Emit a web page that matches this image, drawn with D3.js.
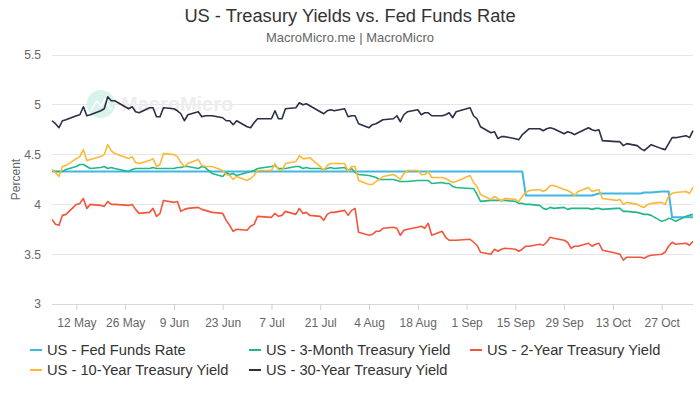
<!DOCTYPE html>
<html>
<head>
<meta charset="utf-8">
<script src="https://cdn.jsdelivr.net/npm/d3@7"></script>
<style>
  body { margin: 0; background: #fff; font-family: "Helvetica Neue", Helvetica, "Liberation Sans", Arial, sans-serif; }
</style>
</head>
<body>
<div id="chart"></div>
<script>
// business days, 2025 (MM-DD)
const dates = [
  '05-05','05-06','05-07','05-08','05-09','05-12','05-13','05-14','05-15','05-16','05-19','05-20','05-21','05-22','05-23','05-27','05-28','05-29','05-30',
  '06-02','06-03','06-04','06-05','06-06','06-09','06-10','06-11','06-12','06-13','06-16','06-17','06-18','06-20','06-23','06-24','06-25','06-26','06-27','06-30',
  '07-01','07-02','07-03','07-07','07-08','07-09','07-10','07-11','07-14','07-15','07-16','07-17','07-18','07-21','07-22','07-23','07-24','07-25','07-28','07-29','07-30','07-31',
  '08-01','08-04','08-05','08-06','08-07','08-08','08-11','08-12','08-13','08-14','08-15','08-18','08-19','08-20','08-21','08-22','08-25','08-26','08-27','08-28','08-29',
  '09-02','09-03','09-04','09-05','09-08','09-09','09-10','09-11','09-12','09-15','09-16','09-17','09-18','09-19','09-22','09-23','09-24','09-25','09-26','09-29','09-30',
  '10-01','10-02','10-03','10-06','10-07','10-08','10-09','10-10','10-14','10-15','10-16','10-17','10-20','10-21','10-22','10-23','10-24','10-27','10-28','10-29','10-30','10-31',
  '11-03','11-04','11-05'
];

const fedFunds = [
  4.33,4.33,4.33,4.33,4.33,4.33,4.33,4.33,4.33,4.33,4.33,4.33,4.33,4.33,4.33,4.33,4.33,4.33,4.33,
  4.33,4.33,4.33,4.33,4.33,4.33,4.33,4.33,4.33,4.33,4.33,4.33,4.33,4.33,4.33,4.33,4.33,4.33,4.33,4.33,
  4.33,4.33,4.33,4.33,4.33,4.33,4.33,4.33,4.33,4.33,4.33,4.33,4.33,4.33,4.33,4.33,4.33,4.33,4.33,4.33,4.33,4.33,
  4.33,4.33,4.33,4.33,4.33,4.33,4.33,4.33,4.33,4.33,4.33,4.33,4.33,4.33,4.33,4.33,4.33,4.33,4.33,4.33,4.33,
  4.33,4.33,4.33,4.33,4.33,4.33,4.33,4.33,4.33,4.33,4.33,4.33,4.09,4.09,4.09,4.09,4.09,4.09,4.09,4.09,4.09,
  4.09,4.09,4.09,4.09,4.09,4.10,4.11,4.11,4.11,4.11,4.11,4.11,4.11,4.11,4.12,4.12,4.12,4.13,4.13,4.13,3.87,3.87,
  3.87,3.87,3.87
];

const threeMonth = [
  4.34,4.33,4.33,4.33,4.35,4.38,4.40,4.40,4.38,4.36,4.37,4.38,4.36,4.37,4.36,4.33,4.35,4.36,4.36,
  4.36,4.37,4.36,4.36,4.36,4.36,4.37,4.37,4.38,4.38,4.36,4.38,4.37,4.31,4.28,4.32,4.30,4.31,4.29,4.32,
  4.33,4.34,4.36,4.38,4.39,4.36,4.36,4.36,4.38,4.38,4.36,4.37,4.36,4.36,4.35,4.36,4.37,4.36,4.37,4.34,4.36,4.32,
  4.30,4.29,4.28,4.27,4.25,4.25,4.25,4.24,4.23,4.23,4.23,4.24,4.24,4.24,4.24,4.21,4.22,4.21,4.21,4.18,4.17,
  4.16,4.16,4.10,4.03,4.04,4.04,4.04,4.04,4.04,4.03,4.01,4.01,4.00,4.00,3.99,3.96,3.95,3.97,3.96,3.97,3.95,
  3.96,3.96,3.96,3.96,3.95,3.96,3.96,3.95,3.96,3.96,3.93,3.93,3.92,3.91,3.90,3.90,3.89,3.83,3.84,3.86,3.85,3.83,
  3.88,3.89,3.90
];

const twoYear = [
  3.85,3.80,3.79,3.89,3.90,4.00,4.01,4.06,3.96,4.00,3.99,3.98,4.03,4.00,4.00,3.99,4.00,3.95,3.91,
  3.92,3.96,3.88,3.91,4.04,4.02,4.03,3.93,3.95,3.96,3.97,3.95,3.94,3.92,3.91,3.84,3.79,3.73,3.75,3.74,
  3.78,3.80,3.88,3.87,3.91,3.88,3.89,3.93,3.90,3.96,3.91,3.92,3.89,3.88,3.84,3.90,3.92,3.92,3.94,3.89,3.94,3.96,
  3.72,3.69,3.70,3.73,3.73,3.76,3.77,3.76,3.69,3.74,3.75,3.77,3.78,3.76,3.81,3.69,3.73,3.67,3.64,3.64,3.64,
  3.65,3.62,3.59,3.52,3.50,3.55,3.53,3.55,3.56,3.55,3.53,3.55,3.58,3.58,3.60,3.59,3.62,3.67,3.66,3.64,3.62,
  3.56,3.58,3.58,3.61,3.58,3.60,3.61,3.54,3.51,3.50,3.44,3.47,3.47,3.47,3.46,3.48,3.49,3.50,3.52,3.58,3.62,3.60,
  3.61,3.59,3.63
];

const tenYear = [
  4.35,4.32,4.28,4.38,4.39,4.46,4.48,4.55,4.44,4.45,4.48,4.50,4.60,4.54,4.51,4.46,4.48,4.42,4.41,
  4.44,4.46,4.38,4.40,4.51,4.50,4.48,4.42,4.38,4.41,4.45,4.39,4.38,4.38,4.34,4.30,4.29,4.25,4.28,4.24,
  4.26,4.29,4.34,4.34,4.41,4.35,4.34,4.41,4.43,4.49,4.46,4.46,4.47,4.38,4.34,4.39,4.41,4.41,4.41,4.33,4.38,4.38,
  4.24,4.20,4.20,4.23,4.25,4.28,4.30,4.28,4.25,4.31,4.34,4.34,4.30,4.30,4.33,4.27,4.27,4.26,4.24,4.22,4.23,
  4.29,4.22,4.18,4.10,4.05,4.08,4.06,4.03,4.06,4.05,4.03,4.08,4.12,4.14,4.15,4.13,4.15,4.19,4.19,4.15,4.14,
  4.12,4.09,4.13,4.17,4.13,4.14,4.15,4.06,4.04,4.05,4.00,4.02,4.00,3.98,3.97,4.00,4.01,4.02,4.00,4.08,4.11,4.12,
  4.13,4.11,4.17
];

const thirtyYear = [
  4.84,4.81,4.77,4.84,4.85,4.89,4.90,4.98,4.89,4.90,4.94,4.96,5.08,5.04,5.04,4.96,4.98,4.93,4.92,
  4.97,4.97,4.88,4.88,4.97,4.96,4.94,4.91,4.84,4.90,4.93,4.88,4.89,4.89,4.87,4.84,4.84,4.80,4.84,4.78,
  4.77,4.82,4.86,4.86,4.94,4.86,4.86,4.96,4.97,5.02,5.00,5.01,4.99,4.93,4.91,4.94,4.95,4.94,4.96,4.88,4.89,4.89,
  4.81,4.77,4.80,4.81,4.83,4.85,4.86,4.89,4.83,4.90,4.93,4.95,4.90,4.92,4.92,4.89,4.89,4.90,4.92,4.87,4.93,
  4.97,4.89,4.86,4.78,4.72,4.73,4.66,4.68,4.68,4.66,4.65,4.70,4.73,4.76,4.76,4.74,4.76,4.77,4.76,4.71,4.73,
  4.72,4.70,4.72,4.77,4.75,4.74,4.75,4.64,4.63,4.63,4.59,4.61,4.59,4.56,4.54,4.57,4.60,4.56,4.55,4.61,4.67,4.67,
  4.69,4.67,4.74
];

const seriesNames = ['US - Fed Funds Rate', 'US - 3-Month Treasury Yield', 'US - 2-Year Treasury Yield',
  'US - 10-Year Treasury Yield', 'US - 30-Year Treasury Yield'];
const seriesValues = [fedFunds, threeMonth, twoYear, tenYear, thirtyYear];
const colors = ['#41b6e0', '#22b68c', '#f2553c', '#fcb935', '#2b2f45'];

const yTicks = [3, 3.5, 4, 4.5, 5, 5.5];
const xTickDates = ['05-12','05-26','06-09','06-23','07-07','07-21','08-04','08-18','09-01','09-15','09-29','10-13','10-27'];

const parseDate = d3.timeParse('%Y-%m-%d');
const toDate = s => parseDate('2025-' + s);

const svgWidth = 700;
const svgHeight = 393;
const plot = { left: 52, right: 693, top: 55, bottom: 304 };
const font = '"Helvetica Neue", Helvetica, "Liberation Sans", Arial, sans-serif';

const svg = d3.select('#chart')
  .append('svg')
  .attr('width', svgWidth)
  .attr('height', svgHeight);

const xScale = d3.scaleTime()
  .domain([toDate('05-05'), toDate('11-05')])
  .range([plot.left, plot.right]);

const yScale = d3.scaleLinear()
  .domain([3, 5.5])
  .range([plot.bottom, plot.top]);

// title + subtitle
svg.append('text')
  .attr('x', svgWidth / 2).attr('y', 22)
  .attr('text-anchor', 'middle')
  .style('font-size', '18.3px').style('fill', '#333')
  .text('US - Treasury Yields vs. Fed Funds Rate');

svg.append('text')
  .attr('x', svgWidth / 2).attr('y', 42)
  .attr('text-anchor', 'middle')
  .style('font-size', '13px').style('fill', '#666')
  .text('MacroMicro.me | MacroMicro');

// gridlines
svg.append('g')
  .selectAll('line')
  .data(yTicks)
  .enter()
  .append('line')
  .attr('x1', plot.left).attr('x2', plot.right)
  .attr('y1', d => yScale(d)).attr('y2', d => yScale(d))
  .attr('stroke', d => d === 3 ? '#d8d8d8' : '#e6e6e6')
  .attr('stroke-width', 1)
  .attr('shape-rendering', 'crispEdges');

// watermark
const wm = svg.append('g').attr('opacity', 0.9);
wm.append('circle').attr('cx', 101).attr('cy', 104).attr('r', 14).attr('fill', '#d3f2ea');
wm.append('path')
  .attr('d', 'M91,110 L97,101 L101,106 L105,99 L111,110')
  .attr('fill', 'none').attr('stroke', '#fff').attr('stroke-width', 1.6);
wm.append('text')
  .attr('x', 121).attr('y', 111)
  .style('font-size', '20px').style('font-weight', 'bold').style('fill', '#ececec')
  .text('MacroMicro');

// y axis labels
svg.append('g')
  .attr('transform', `translate(${plot.left},0)`)
  .call(d3.axisLeft(yScale).tickValues(yTicks).tickSize(0).tickPadding(11).tickFormat(d3.format('')))
  .call(g => g.select('.domain').remove())
  .call(g => g.selectAll('text').style('font-size', '12px').style('fill', '#666').style('font-family', font));

svg.append('text')
  .attr('transform', `translate(20,${(plot.top + plot.bottom) / 2}) rotate(-90)`)
  .attr('text-anchor', 'middle')
  .style('font-size', '12px').style('fill', '#666')
  .text('Percent');

// x axis
svg.append('g')
  .attr('transform', `translate(0,${plot.bottom})`)
  .call(d3.axisBottom(xScale)
    .tickValues(xTickDates.map(toDate))
    .tickSize(6).tickPadding(8)
    .tickFormat(d3.timeFormat('%-d %b')))
  .call(g => g.select('.domain').remove())
  .call(g => g.selectAll('line').attr('stroke', '#d0d0d0'))
  .call(g => g.selectAll('text').style('font-size', '12px').style('fill', '#666').style('font-family', font));

// lines
const line = d3.line()
  .x((d, i) => xScale(toDate(dates[i])))
  .y(d => yScale(d));

svg.append('g')
  .selectAll('path')
  .data(seriesValues)
  .enter()
  .append('path')
  .attr('d', d => line(d))
  .attr('fill', 'none')
  .attr('stroke', (d, i) => colors[i])
  .attr('stroke-width', (d, i) => i === 0 ? 2 : 1.6)
  .attr('stroke-linejoin', 'round');

// legend
const legendPos = [[30, 350], [249, 350], [470, 350], [30, 370], [249, 370]];
const legend = svg.append('g')
  .selectAll('g')
  .data(seriesNames)
  .enter()
  .append('g')
  .attr('transform', (d, i) => `translate(${legendPos[i][0]},${legendPos[i][1]})`);

legend.append('line')
  .attr('x1', 0).attr('x2', 12)
  .attr('stroke', (d, i) => colors[i])
  .attr('stroke-width', 2);

legend.append('text')
  .attr('x', 17).attr('dy', '0.35em')
  .style('font-size', '14.7px').style('fill', '#333')
  .text(d => d);
</script>
</body>
</html>
